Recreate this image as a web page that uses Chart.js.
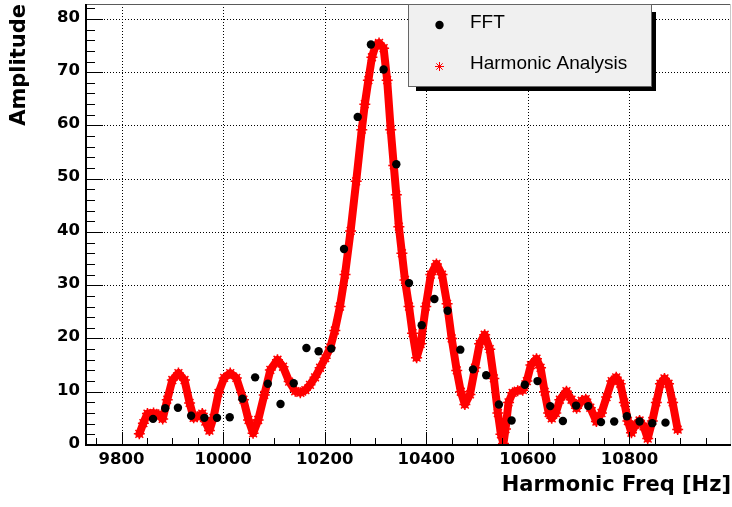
<!DOCTYPE html>
<html>
<head>
<meta charset="utf-8">
<script src="https://cdn.jsdelivr.net/npm/chart.js@4.4.1/dist/chart.umd.min.js"></script>
<style>
    html, body { margin: 0; padding: 0; background: #fff; }
    canvas { display: block; }
</style>
</head>
<body>
<canvas id="spectrum" width="732" height="507"></canvas>
<script>
// FFT bins
const fft_freq = [9862, 9886, 9911, 9937, 9963, 9988, 10013, 10038, 10063, 10088,
    10113, 10139, 10164, 10188, 10213, 10238, 10265, 10291, 10316, 10341,
    10366, 10391, 10416, 10442, 10467, 10492, 10518, 10543, 10568, 10594,
    10619, 10644, 10669, 10695, 10719, 10744, 10770, 10795, 10820, 10845, 10871];
const fft_amp = [4.9, 6.9, 7.0, 5.5, 5.1, 5.1, 5.2, 8.7, 12.7, 11.5,
    7.7, 11.6, 18.2, 17.6, 18.1, 36.8, 61.6, 75.2, 70.5, 52.7,
    30.4, 22.5, 27.4, 25.2, 17.9, 14.2, 13.1, 7.6, 4.6, 11.3,
    12.0, 7.3, 4.5, 7.4, 7.3, 4.3, 4.4, 5.4, 4.4, 4.1, 4.2];

// harmonic analysis scan
const harm_freq = [9835, 9843, 9851, 9863, 9873, 9881, 9890, 9900, 9912, 9924,
    9934, 9942, 9949, 9959, 9965, 9973, 9981, 9991, 10002, 10014,
    10026, 10040, 10050, 10059, 10069, 10081, 10093, 10107, 10118, 10130,
    10142, 10152, 10162, 10171, 10181, 10191, 10201, 10211, 10220, 10230,
    10240, 10251, 10262, 10273, 10279, 10286, 10293, 10300, 10307, 10316,
    10323, 10330, 10336, 10341, 10346, 10352, 10358, 10366, 10373, 10381,
    10389, 10399, 10409, 10420, 10431, 10441, 10450, 10460, 10468, 10476,
    10486, 10496, 10505, 10515, 10525, 10533, 10541, 10547, 10552, 10556,
    10562, 10570, 10580, 10590, 10598, 10606, 10617, 10625, 10633, 10641,
    10647, 10655, 10663, 10676, 10686, 10696, 10706, 10714, 10723, 10735,
    10745, 10755, 10765, 10774, 10782, 10790, 10797, 10804, 10812, 10820,
    10828, 10836, 10845, 10853, 10861, 10869, 10877, 10885, 10895];
const harm_amp = [2.1, 4.1, 5.9, 6.0, 5.7, 4.9, 8.5, 12.2, 13.5, 12.2,
    7.9, 5.1, 5.3, 5.9, 4.4, 2.7, 5.1, 9.8, 12.6, 13.5,
    12.6, 8.5, 4.7, 2.2, 4.7, 9.4, 14.1, 16.0, 14.7, 11.9,
    10.1, 9.8, 10.3, 11.3, 12.7, 14.5, 16.3, 18.3, 21.5, 26.0,
    32.0, 40.2, 49.5, 59.2, 64.0, 68.5, 72.8, 75.0, 75.5, 74.5,
    68.5, 59.2, 52.5, 47.0, 41.0, 36.0, 31.0, 26.0, 21.0, 16.4,
    19.0, 26.0, 32.0, 34.0, 32.0, 26.5, 20.0, 14.0, 10.0, 7.6,
    9.5, 14.5, 19.0, 20.7, 18.0, 12.5, 6.0, 2.0, 0.3, 3.0,
    8.0, 9.8, 10.2, 10.3, 12.0, 15.0, 16.2, 14.5, 10.0, 6.0,
    5.0, 6.0, 8.5, 10.1, 8.5, 6.9, 8.3, 8.6, 7.0, 4.4,
    6.0, 9.0, 12.0, 12.7, 11.5, 8.0, 4.5, 2.3, 3.8, 4.6,
    3.5, 1.2, 4.5, 8.0, 11.5, 12.5, 11.5, 8.0, 2.9];

const x_ticks = [9800, 10000, 10200, 10400, 10600, 10800];
const y_ticks = [0, 10, 20, 30, 40, 50, 60, 70, 80];
const series_labels = ["FFT", "Harmonic Analysis"];

const tick_font = { family: "DejaVu Sans", weight: "bold", size: 16.5 };
const title_font = { family: "DejaVu Sans", weight: "bold", size: 21 };

// dotted grid, inward ticks, frame and the boxed legend
const root_frame = {
    id: 'root_frame',
    beforeDatasetsDraw(chart) {
        const { ctx, chartArea: a, scales: { x, y } } = chart;
        ctx.save();
        ctx.strokeStyle = '#000';
        ctx.lineWidth = 1;
        ctx.setLineDash([1, 2]);
        ctx.beginPath();
        x_ticks.forEach(v => {
            const px = Math.round(x.getPixelForValue(v)) + 0.5;
            ctx.moveTo(px, a.top);
            ctx.lineTo(px, a.bottom);
        });
        y_ticks.slice(1).forEach(v => {
            const py = Math.round(y.getPixelForValue(v)) + 0.5;
            ctx.moveTo(a.left, py);
            ctx.lineTo(a.right, py);
        });
        ctx.stroke();
        ctx.restore();
    },
    afterDatasetsDraw(chart) {
        const { ctx, chartArea: a, scales: { x, y } } = chart;
        ctx.save();

        // top and right edge of the frame
        ctx.lineWidth = 1;
        ctx.strokeStyle = '#5a5a5a';
        ctx.beginPath();
        ctx.moveTo(a.left, a.top + 0.5);
        ctx.lineTo(a.right, a.top + 0.5);
        ctx.stroke();
        ctx.strokeStyle = '#c8c8c8';
        ctx.beginPath();
        ctx.moveTo(a.right - 0.5, a.top);
        ctx.lineTo(a.right - 0.5, a.bottom);
        ctx.stroke();

        // tick marks pointing into the plot
        ctx.strokeStyle = '#000';
        ctx.beginPath();
        for (let v = 9750; v <= 10950; v += 50) {
            const px = Math.round(x.getPixelForValue(v)) + 0.5;
            const len = (v % 200 == 0) ? 13 : 7;
            ctx.moveTo(px, a.bottom);
            ctx.lineTo(px, a.bottom - len);
        }
        for (let v = 2; v <= 82; v += 2) {
            const py = Math.round(y.getPixelForValue(v)) + 0.5;
            const len = (v % 10 == 0) ? 17 : 9;
            ctx.moveTo(a.left, py);
            ctx.lineTo(a.left + len, py);
        }
        ctx.stroke();

        // axis lines
        ctx.lineWidth = 2;
        ctx.beginPath();
        ctx.moveTo(a.left, a.top);
        ctx.lineTo(a.left, a.bottom);
        ctx.lineTo(a.right, a.bottom);
        ctx.stroke();
        ctx.restore();
    },
    afterDraw(chart) {
        const ctx = chart.ctx;
        const sets = chart.data.datasets;
        ctx.save();

        // shadow then box
        ctx.fillStyle = '#000';
        ctx.fillRect(416, 12, 240, 79);
        ctx.fillStyle = '#f0f0f0';
        ctx.fillRect(408, 4, 244, 83);
        ctx.strokeStyle = '#666';
        ctx.lineWidth = 1;
        ctx.strokeRect(408.5, 4.5, 243, 82);

        const rows = [25, 66.5];
        sets.forEach((ds, i) => {
            ctx.fillStyle = ds.backgroundColor;
            ctx.strokeStyle = ds.pointBorderColor || ds.borderColor;
            Chart.helpers.drawPoint(ctx, {
                pointStyle: ds.pointStyle,
                radius: i == 0 ? 4.2 : 4.5,
                borderWidth: i == 0 ? 0 : 1.4,
                rotation: 0
            }, 439.5, rows[i]);

            ctx.fillStyle = '#000';
            ctx.font = '19px "Liberation Sans"';
            ctx.textBaseline = 'middle';
            ctx.textAlign = 'left';
            ctx.fillText(ds.label, 470, rows[i] - 2.3);
        });
        ctx.restore();
    }
};

new Chart(document.getElementById('spectrum'), {
    type: 'scatter',
    data: {
        datasets: [
            {
                label: series_labels[0],
                data: fft_freq.map((f, i) => ({ x: f, y: fft_amp[i] })),
                pointStyle: 'circle',
                pointRadius: 4.2,
                backgroundColor: '#000',
                borderColor: '#000',
                borderWidth: 0,
                showLine: false,
                order: 0
            },
            {
                label: series_labels[1],
                data: harm_freq.map((f, i) => ({ x: f, y: harm_amp[i] })),
                showLine: true,
                borderColor: '#ff0000',
                borderWidth: 8,
                borderJoinStyle: 'round',
                borderCapStyle: 'round',
                pointStyle: 'star',
                pointRadius: 5.5,
                pointBorderColor: '#ff0000',
                pointBorderWidth: 1.5,
                backgroundColor: '#ff0000',
                tension: 0,
                clip: 0,
                order: 1
            }
        ]
    },
    options: {
        responsive: false,
        devicePixelRatio: 1,
        animation: false,
        layout: {
            autoPadding: false,
            padding: { top: 4, right: 1, bottom: 0, left: 0 }
        },
        scales: {
            x: {
                type: 'linear',
                min: 9730,
                max: 11000,
                afterBuildTicks: scale => { scale.ticks = x_ticks.map(v => ({ value: v })); },
                afterFit: scale => {
                    scale.height = 62;
                    scale.paddingLeft = 0;
                    scale.paddingRight = 0;
                },
                grid: { display: false, drawTicks: false },
                border: { display: false },
                ticks: {
                    font: tick_font,
                    color: '#000',
                    padding: 5,
                    maxRotation: 0,
                    autoSkip: false,
                    callback: value => String(value)
                },
                title: {
                    display: true,
                    text: 'Harmonic Freq [Hz]',
                    align: 'end',
                    font: title_font,
                    color: '#000',
                    padding: { top: 0, bottom: 8.4 }
                }
            },
            y: {
                type: 'linear',
                min: 0,
                max: 82.8,
                afterBuildTicks: scale => { scale.ticks = y_ticks.map(v => ({ value: v })); },
                afterFit: scale => {
                    scale.width = 86;
                    scale.paddingTop = 0;
                    scale.paddingBottom = 0;
                },
                grid: { display: false, drawTicks: false },
                border: { display: false },
                ticks: {
                    font: tick_font,
                    color: '#000',
                    padding: 6,
                    labelOffset: -1.5,
                    callback: value => String(value)
                },
                title: {
                    display: true,
                    text: 'Amplitude',
                    align: 'end',
                    font: title_font,
                    color: '#000',
                    padding: { top: 7.4, bottom: 0 }
                }
            }
        },
        plugins: {
            legend: { display: false },
            tooltip: { enabled: false }
        }
    },
    plugins: [root_frame]
});
</script>
</body>
</html>
